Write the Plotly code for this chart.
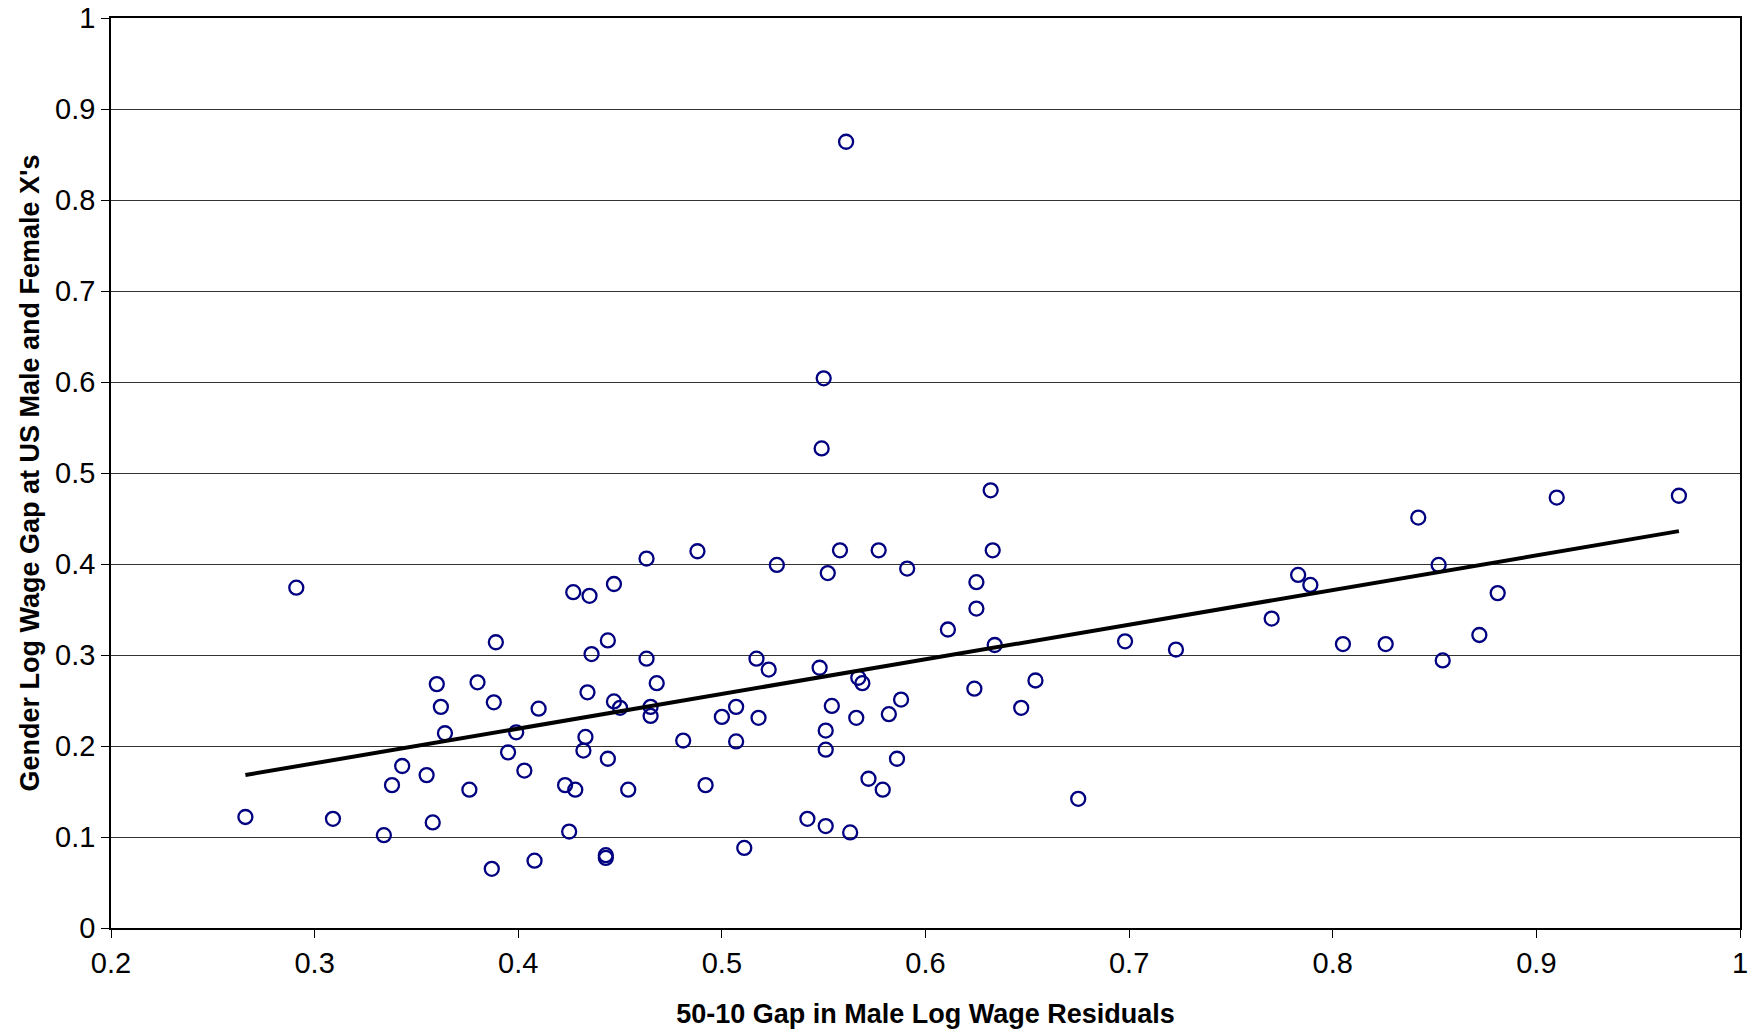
import numpy as np
import plotly.graph_objects as go

# 50-10 gap in male log wage residuals
x_gap = [0.266, 0.291, 0.309, 0.334, 0.338, 0.343, 0.355, 0.358, 0.360, 0.362,
         0.364, 0.376, 0.380, 0.387, 0.388, 0.389, 0.395, 0.399, 0.403, 0.408,
         0.410, 0.423, 0.425, 0.427, 0.428, 0.432, 0.433, 0.434, 0.435, 0.436,
         0.443, 0.443, 0.444, 0.444, 0.447, 0.447, 0.450, 0.454, 0.463, 0.463,
         0.465, 0.465, 0.468, 0.481, 0.488, 0.492, 0.500, 0.507, 0.507, 0.511,
         0.517, 0.518, 0.523, 0.527, 0.542, 0.548, 0.549, 0.550, 0.551, 0.551,
         0.551, 0.552, 0.554, 0.558, 0.561, 0.563, 0.566, 0.567, 0.569, 0.572,
         0.577, 0.579, 0.582, 0.586, 0.588, 0.591, 0.611, 0.624, 0.625, 0.625,
         0.632, 0.633, 0.634, 0.647, 0.654, 0.675, 0.698, 0.723, 0.770, 0.783,
         0.789, 0.805, 0.826, 0.842, 0.852, 0.854, 0.872, 0.881, 0.910, 0.970]

# Gender log wage gap at US male and female X's
y_gap = [0.122, 0.374, 0.120, 0.102, 0.157, 0.178, 0.168, 0.116, 0.268, 0.243,
         0.214, 0.152, 0.270, 0.065, 0.248, 0.314, 0.193, 0.215, 0.173, 0.074,
         0.241, 0.157, 0.106, 0.369, 0.152, 0.195, 0.210, 0.259, 0.365, 0.301,
         0.080, 0.077, 0.186, 0.316, 0.378, 0.249, 0.242, 0.152, 0.406, 0.296,
         0.243, 0.233, 0.269, 0.206, 0.414, 0.157, 0.232, 0.243, 0.205, 0.088,
         0.296, 0.231, 0.284, 0.399, 0.120, 0.286, 0.527, 0.604, 0.217, 0.112,
         0.196, 0.390, 0.244, 0.415, 0.864, 0.105, 0.231, 0.275, 0.269, 0.164,
         0.415, 0.152, 0.235, 0.186, 0.251, 0.395, 0.328, 0.263, 0.351, 0.380,
         0.481, 0.415, 0.311, 0.242, 0.272, 0.142, 0.315, 0.306, 0.340, 0.388,
         0.377, 0.312, 0.312, 0.451, 0.399, 0.294, 0.322, 0.368, 0.473, 0.475]

x_ticks = [0.2, 0.3, 0.4, 0.5, 0.6, 0.7, 0.8, 0.9, 1.0]
x_tick_labels = ["0.2", "0.3", "0.4", "0.5", "0.6", "0.7", "0.8", "0.9", "1"]
y_ticks = [0, 0.1, 0.2, 0.3, 0.4, 0.5, 0.6, 0.7, 0.8, 0.9, 1.0]
y_tick_labels = ["0", "0.1", "0.2", "0.3", "0.4", "0.5", "0.6", "0.7", "0.8", "0.9", "1"]

# Linear (OLS) trend line fitted to the points
xa = np.array(x_gap)
ya = np.array(y_gap)
slope, intercept = np.polyfit(xa, ya, 1)
fit_x = [xa.min(), xa.max()]
fit_y = [intercept + slope * v for v in fit_x]

fig = go.Figure()
fig.add_trace(go.Scatter(
    x=x_gap, y=y_gap, mode="markers",
    marker=dict(symbol="circle-open", size=14, color="#000080",
                line=dict(width=2.3, color="#000080")),
    showlegend=False, hoverinfo="x+y"))
fig.add_trace(go.Scatter(
    x=fit_x, y=fit_y, mode="lines",
    line=dict(color="black", width=4),
    showlegend=False, hoverinfo="skip"))

font_family = "Liberation Sans, Arial, sans-serif"
fig.update_layout(
    width=1762, height=1029,
    margin=dict(l=111, r=22, t=18, b=101),
    paper_bgcolor="white", plot_bgcolor="white",
    font=dict(family=font_family, color="black", size=29),
    xaxis=dict(
        range=[0.2, 1.0], tickvals=x_ticks, ticktext=x_tick_labels,
        showgrid=False, zeroline=False, showline=True, linecolor="black",
        linewidth=1.5, mirror=True, ticks="outside", ticklen=8,
        tickcolor="black", tickfont=dict(size=29), automargin=False,
        ticklabeloverflow="allow",
        title=dict(text="<b>50-10 Gap in Male Log Wage Residuals</b>",
                   font=dict(size=27), standoff=27)),
    yaxis=dict(
        range=[0, 1.0], tickvals=y_ticks, ticktext=y_tick_labels,
        showgrid=True, gridcolor="#333333", gridwidth=1,
        zeroline=False, showline=True, linecolor="black",
        linewidth=1.5, mirror=True, ticks="outside", ticklen=8,
        tickcolor="black", tickfont=dict(size=29), automargin=False,
        ticklabeloverflow="allow",
        title=dict(text="<b>Gender Log Wage Gap at US Male and Female X's</b>",
                   font=dict(size=27), standoff=8)),
)

fig.write_html(
    "out.html",
    config={"displayModeBar": False},
    post_script="document.body.style.margin='0';document.body.style.overflow='hidden';",
)
